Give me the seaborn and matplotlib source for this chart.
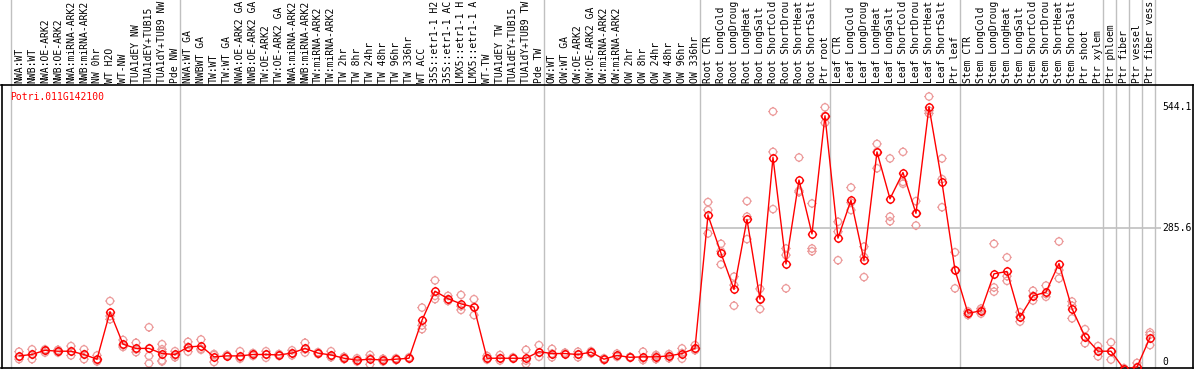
import numpy as np
import pandas as pd
import matplotlib
matplotlib.use("Agg")
from matplotlib import pyplot as plt
from matplotlib.path import Path
import seaborn as sns

gene = "Potri.011G142100"

# names as the chart prints them (cut at 14 characters)
samples = [
    "NWA:WT", "NWB:WT", "NWA:OE-ARK2", "NWB:OE-ARK2", "NWA:miRNA-ARK2", "NWB:miRNA-ARK2",
    "NW 0hr", "WT H2O", "WT-NW", "TUA1dEY NW", "TUA1dEY+TUB15", "TUA1dY+TUB9 NW", "Pde NW",
    "NWA:WT GA", "NWBWT GA", "TW:WT", "TW:WT GA", "NWA:OE-ARK2 GA", "NWB:OE-ARK2 GA",
    "TW:OE-ARK2", "TW:OE-ARK2 GA", "NWA:miRNA-ARK2", "NWB:miRNA-ARK2", "TW:miRNA-ARK2",
    "TW:miRNA-ARK2", "TW 2hr", "TW 8hr", "TW 24hr", "TW 48hr", "TW 96hr", "TW 336hr",
    "WT ACC", "35S::etr1-1 H2", "35S::etr1-1 AC", "LMX5::etr1-1 H", "LMX5::etr1-1 A",
    "WT-TW", "TUA1dEY TW", "TUA1dEY+TUB15", "TUA1dY+TUB9 TW", "Pde TW",
    "OW:WT", "OW:WT GA", "OW:OE-ARK2", "OW:OE-ARK2 GA", "OW:miRNA-ARK2", "OW:miRNA-ARK2",
    "OW 2hr", "OW 8hr", "OW 24hr", "OW 48hr", "OW 96hr", "OW 336hr",
    "Root CTR", "Root LongCold", "Root LongDroug", "Root LongHeat", "Root LongSalt",
    "Root ShortCold", "Root ShortDrou", "Root ShortHeat", "Root ShortSalt", "Ptr root",
    "Leaf CTR", "Leaf LongCold", "Leaf LongDroug", "Leaf LongHeat", "Leaf LongSalt",
    "Leaf ShortCold", "Leaf ShortDrou", "Leaf ShortHeat", "Leaf ShortSalt", "Ptr leaf",
    "Stem CTR", "Stem LongCold", "Stem LongDroug", "Stem LongHeat", "Stem LongSalt",
    "Stem ShortCold", "Stem ShortDrou", "Stem ShortHeat", "Stem ShortSalt",
    "Ptr shoot", "Ptr xylem", "Ptr phloem", "Ptr fiber", "Ptr vessel", "Ptr fiber vess",
]
group_sizes = [13, 28, 12, 10, 10, 11, 1, 1, 1, 1]

means = [
    13, 16, 25, 23, 23, 16, 6, 107, 38, 29, 29, 18, 16,
    32, 34, 11, 13, 13, 16, 16, 15, 19, 29, 19, 15, 8, 4, 6, 4, 6, 8,
    89, 151, 135, 124, 117, 8, 8, 8, 8, 22,
    18, 18, 16, 21, 6, 14, 10, 11, 11, 13, 18, 29,
    313, 232, 155, 304, 134, 436, 209, 388, 273, 525,
    264, 345, 217, 448, 348, 404, 317, 544.1, 383, 196,
    104, 109, 188, 193, 96, 141, 149, 210, 114, 54, 23,
    23, -15, -11, 52,
]

reps = [
    [22, 11, 6], [27, 16, 6], [27, 24, 20], [26, 23, 20], [34, 23, 14], [27, 16, 6],
    [14, 4, 1], [130, 98, 91], [47, 36, 32], [41, 27, 21], [74, 29, 13, -3],
    [38, 27, 22, 3, 1], [23, 14, 10],
    [43, 32, 22], [48, 28, 26], [17, 15, 0], [15, 13, 12], [23, 10, 7], [19, 16, 13],
    [23, 16, 9], [17, 15, 13], [25, 19, 14], [41, 27, 20], [21, 19, 17], [23, 13, 10],
    [11, 9, 6], [8, 4, 1], [15, 8, -5], [7, 4, 1], [8, 6, 4], [10, 8, 7],
    [116, 78, 70], [174, 141, 134], [141, 134, 130], [143, 119, 111], [134, 117, 100],
    [13, 8, 5], [15, 8, 3], [10, 8, 7], [26, 3, -4], [36, 20, 11],
    [28, 18, 10], [20, 18, 17], [22, 16, 10], [23, 20, 18], [8, 6, 4], [18, 13, 11],
    [11, 10, 9], [22, 8, 4], [15, 12, 6], [17, 13, 8], [29, 19, 7], [36, 27, 25],
    [341, 324, 274], [252, 236, 208], [182, 164, 120], [343, 310, 262], [156, 134, 113],
    [534, 448, 326], [242, 228, 157], [436, 365, 362], [338, 242, 236], [543, 525, 510],
    [299, 278, 217], [372, 340, 324], [246, 224, 181], [465, 448, 413], [434, 310, 300],
    [448, 384, 380], [343, 317, 291], [566, 536, 530], [434, 390, 330], [234, 196, 157],
    [108, 104, 100], [114, 110, 103], [252, 159, 150], [223, 183, 173], [106, 96, 86],
    [152, 141, 131], [163, 145, 139], [257, 196, 178], [129, 120, 93], [70, 54, 40],
    [34, 23, 12],
    [42, 23, 5], [-13, -15, -17], [-2, -11, -18], [63, 58, 36],
]

y_ticks = [0, 285.6, 544.1]
y_tick_labels = ["0", "285.6", "544.1"]

# tables for seaborn
pos = np.arange(len(samples))
df_mean = pd.DataFrame({"pos": pos, "sample": samples, "value": means})
rows = []
for p, r in zip(pos, reps):
    for v in r:
        rows.append((p, v))
df_rep = pd.DataFrame(rows, columns=["pos", "value"])

sns.set_style("white")
plt.rcParams["font.family"] = ["DejaVu Sans Mono", "DejaVu Sans"]
FS = 7.0

# circle with four little notches, like the original renderer
n = 1.3
notches = Path([(0, 1), (0, n), (0, -1), (0, -n), (1, 0), (n, 0), (-1, 0), (-n, 0)],
               [Path.MOVETO, Path.LINETO] * 4)
ring = Path.make_compound_path(Path.unit_circle(), notches)

fig = plt.figure(figsize=(11.94, 3.70), dpi=100)
ax = fig.add_axes([1.5 / 1194, 2 / 370, 1191.5 / 1194, 283 / 370])

# x: sample i sits at pixel 19 + 13*i ; y: 0 at pixel 362, 0.469 px per unit
ax.set_xlim(-1.346, 90.31)
ax.set_ylim(-12.8, 590.6)

# group separators run through the label band too
bounds = np.cumsum([0] + group_sizes)
for b in bounds:
    ax.axvline(b - 0.62, ymin=0, ymax=1.31, color="#c0c0c0", lw=1.0,
               clip_on=False, zorder=1)

# gridline at the middle tick, across tissue groups only
ax.hlines(y_ticks[1], bounds[3] - 0.62, 87.85, color="#c0c0c0", lw=1.2, zorder=1)

rep_color = "#ec9a9a"
sns.scatterplot(data=df_rep, x="pos", y="value", marker=ring, s=45,
                facecolor="none", edgecolor=rep_color, linewidth=0.9,
                legend=False, ax=ax, zorder=2)

sns.lineplot(data=df_mean, x="pos", y="value", color="#ff0000", lw=1.0,
             marker=ring, markersize=6.7, markerfacecolor="none",
             markeredgecolor="#ff0000", markeredgewidth=1.0, ax=ax, zorder=3)

# sample names above the frame
for p, s in zip(pos, samples):
    ax.text(p, 1.006, s, transform=ax.get_xaxis_transform(), rotation=90,
            ha="center", va="bottom", fontsize=FS, color="black")

# value labels inside the right edge
for v, lab in zip(y_ticks, y_tick_labels):
    ax.text(87.92, v, lab, ha="left", va="center", fontsize=FS, color="black")

ax.text(0.0071, 0.957, gene, transform=ax.transAxes, ha="left", va="center",
        fontsize=FS, color="#ff0000")

ax.set_xticks([])
ax.set_yticks([])
ax.set_xlabel("")
ax.set_ylabel("")
for sp in ax.spines.values():
    sp.set_color("black")
    sp.set_linewidth(1.2)

fig.savefig("out.png", dpi=100)
